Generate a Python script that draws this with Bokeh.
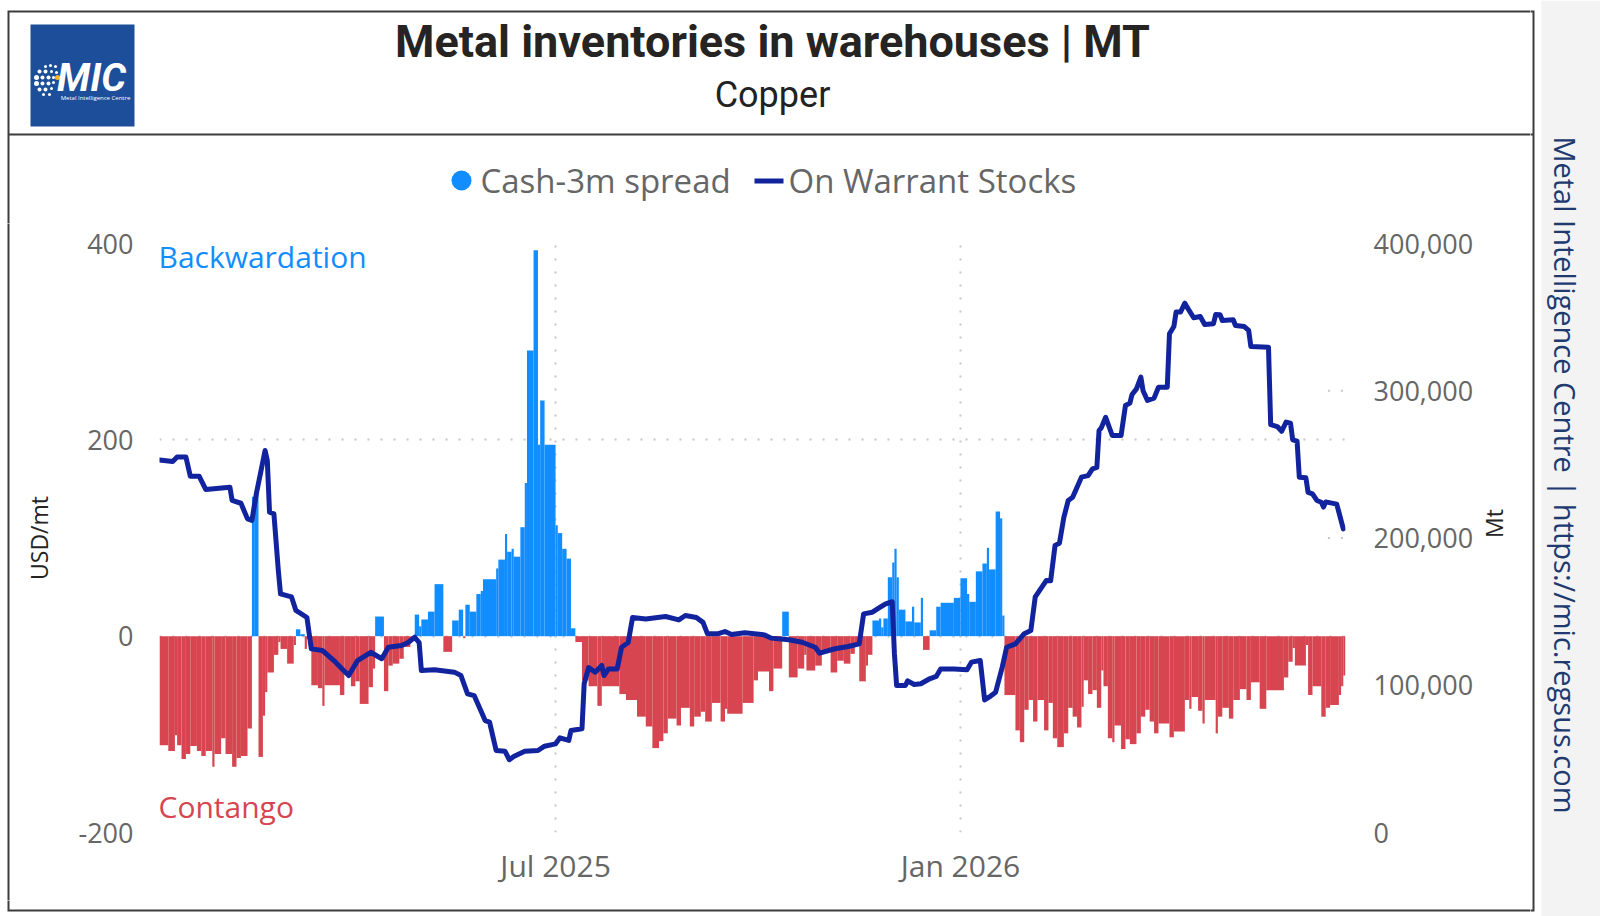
import math
import pandas as pd
from bokeh.embed import file_html
from bokeh.resources import INLINE
from bokeh.layouts import column, row
from bokeh.plotting import figure
from bokeh.models import (ColumnDataSource, Range1d, LinearAxis, FixedTicker,
                          NumeralTickFormatter, DatetimeTickFormatter, Label)

# ---------------------------------------------------------------- data
# LME copper cash-3m spread (USD/mt); each value holds until the next date
spread_dates = [
    "2025-01-02", "2025-01-06", "2025-01-09", "2025-01-10", "2025-01-12", "2025-01-14", "2025-01-16",
    "2025-01-19", "2025-01-21", "2025-01-23", "2025-01-26", "2025-01-27", "2025-01-30",
    "2025-02-01", "2025-02-04", "2025-02-06", "2025-02-08", "2025-02-11", "2025-02-13", "2025-02-14",
    "2025-02-16", "2025-02-18", "2025-02-19", "2025-02-20", "2025-02-23", "2025-02-25", "2025-02-26",
    "2025-03-01", "2025-03-04", "2025-03-05", "2025-03-07", "2025-03-09", "2025-03-10", "2025-03-12",
    "2025-03-15", "2025-03-17", "2025-03-18", "2025-03-25", "2025-03-27", "2025-03-30",
    "2025-04-01", "2025-04-03", "2025-04-07", "2025-04-09", "2025-04-10", "2025-04-14", "2025-04-16",
    "2025-04-18", "2025-04-21", "2025-04-23", "2025-04-26", "2025-04-28", "2025-04-30",
    "2025-05-01", "2025-05-04", "2025-05-07", "2025-05-11", "2025-05-15", "2025-05-18", "2025-05-20",
    "2025-05-21", "2025-05-23", "2025-05-26", "2025-05-28", "2025-05-29",
    "2025-06-04", "2025-06-05", "2025-06-08", "2025-06-09", "2025-06-11", "2025-06-12", "2025-06-15",
    "2025-06-17", "2025-06-18", "2025-06-21", "2025-06-23", "2025-06-24", "2025-06-26",
    "2025-07-01", "2025-07-02", "2025-07-04", "2025-07-06", "2025-07-08", "2025-07-10", "2025-07-13",
    "2025-07-16", "2025-07-20", "2025-07-22", "2025-07-30",
    "2025-08-02", "2025-08-07", "2025-08-11", "2025-08-14", "2025-08-17", "2025-08-19", "2025-08-21",
    "2025-08-25", "2025-08-27", "2025-08-31",
    "2025-09-02", "2025-09-05", "2025-09-07", "2025-09-10", "2025-09-14", "2025-09-16", "2025-09-17",
    "2025-09-24", "2025-09-29",
    "2025-10-01", "2025-10-06", "2025-10-08", "2025-10-12", "2025-10-15", "2025-10-19", "2025-10-22",
    "2025-10-23", "2025-10-27", "2025-10-30",
    "2025-11-03", "2025-11-06", "2025-11-09", "2025-11-12", "2025-11-14", "2025-11-16", "2025-11-19",
    "2025-11-20", "2025-11-22", "2025-11-25", "2025-11-26", "2025-11-27", "2025-11-29",
    "2025-12-01", "2025-12-02", "2025-12-03", "2025-12-04", "2025-12-07", "2025-12-10", "2025-12-11",
    "2025-12-14", "2025-12-15", "2025-12-18", "2025-12-21", "2025-12-23", "2025-12-29",
    "2026-01-01", "2026-01-04", "2026-01-05", "2026-01-08", "2026-01-11", "2026-01-13", "2026-01-14",
    "2026-01-17", "2026-01-19", "2026-01-20", "2026-01-21", "2026-01-26", "2026-01-28", "2026-01-30",
    "2026-02-01", "2026-02-03", "2026-02-05", "2026-02-08", "2026-02-10", "2026-02-12", "2026-02-14",
    "2026-02-17", "2026-02-19", "2026-02-21", "2026-02-23", "2026-02-25", "2026-02-26", "2026-02-28",
    "2026-03-02", "2026-03-04", "2026-03-06", "2026-03-07", "2026-03-09", "2026-03-11", "2026-03-12",
    "2026-03-15", "2026-03-17", "2026-03-19", "2026-03-22", "2026-03-24", "2026-03-26", "2026-03-28",
    "2026-03-30",
    "2026-04-01", "2026-04-06", "2026-04-08", "2026-04-13", "2026-04-15", "2026-04-16", "2026-04-19",
    "2026-04-21", "2026-04-22", "2026-04-27", "2026-04-28", "2026-04-30",
    "2026-05-03", "2026-05-05", "2026-05-08", "2026-05-11", "2026-05-13", "2026-05-17", "2026-05-20",
    "2026-05-28", "2026-05-30",
    "2026-06-01", "2026-06-02", "2026-06-07", "2026-06-08", "2026-06-10", "2026-06-14", "2026-06-16",
    "2026-06-18", "2026-06-22", "2026-06-23", "2026-06-24",
]
spread_usd = [
    -111, -117, -101, -111, -125, -120, -112, -117, -122, -117, -133, -120, -104,
    -120, -133, -124, -122, -94, 142, 147, -123, -81, -57, -37, -19, -6, -13,
    -28, -9, 7, 2, -13, -3, -50, -53, -71, -50, -60, -36, -51,
    -46, -69, -52, -33, 20, -56, -30, -28, -23, -11, -2, 22, 10,
    17, 25, 53, -16, 16, 27, -2, 32, 25, 43, 46, 58,
    69, 78, 104, 86, 89, 81, 111, 156, 291, 393, 195, 240, 195,
    113, 105, 89, 79, 8, -6, -45, -51, -71, -51, -59,
    -65, -82, -92, -114, -107, -99, -84, -91, -73, -92,
    -82, -77, -87, -68, -87, -74, -79, -68, -45,
    -36, -56, -33, 25, -42, -33, -19, -35, -30, -14,
    -37, -25, -28, -18, -9, -46, -30, -19, 16, 18, 9, 18, 60,
    75, 89, 60, 27, 15, 30, 14, 39, -14, 6, 30, 34, 39,
    59, 43, 35, 66, 74, 90, 68, 127, 120, 21, -60, -96, -108, -75,
    -65, -87, -65, -96, -68, -104, -113, -99, -73, -82, -93, -72, -45, -59,
    -55, -73, -35, -51, -104, -108, -91, -115, -105, -110, -99, -82, -75, -87, -99,
    -89, -103, -97, -65, -74, -62, -76, -89, -65, -99, -82, -73,
    -84, -65, -54, -65, -47, -74, -55, -42, -26,
    -12, -30, -9, -60, -51, -82, -73, -70, -60, -51, -40,
]
spread_last_day = "2026-06-25"

# LME copper on-warrant stocks (tonnes)
stock_dates = [
    "2025-01-02", "2025-01-08", "2025-01-10", "2025-01-14", "2025-01-16", "2025-01-20", "2025-01-23",
    "2025-02-03", "2025-02-04", "2025-02-08", "2025-02-11", "2025-02-13", "2025-02-15", "2025-02-19",
    "2025-02-20", "2025-02-21", "2025-02-23", "2025-02-25", "2025-02-26",
    "2025-03-03", "2025-03-05", "2025-03-10", "2025-03-12", "2025-03-17", "2025-03-23", "2025-03-26",
    "2025-03-29",
    "2025-04-02", "2025-04-08", "2025-04-13", "2025-04-16", "2025-04-22", "2025-04-25", "2025-04-28",
    "2025-04-30",
    "2025-05-01", "2025-05-07", "2025-05-16", "2025-05-19", "2025-05-22", "2025-05-25", "2025-05-30",
    "2025-06-01", "2025-06-04", "2025-06-08", "2025-06-10", "2025-06-12", "2025-06-17", "2025-06-23",
    "2025-06-26",
    "2025-07-01", "2025-07-03", "2025-07-07", "2025-07-08", "2025-07-13", "2025-07-14", "2025-07-16",
    "2025-07-19", "2025-07-22", "2025-07-23", "2025-07-25", "2025-07-29", "2025-07-31",
    "2025-08-03", "2025-08-05", "2025-08-11", "2025-08-20", "2025-08-26", "2025-08-29",
    "2025-09-03", "2025-09-06", "2025-09-08", "2025-09-13", "2025-09-16", "2025-09-19", "2025-09-25",
    "2025-10-04", "2025-10-07", "2025-10-15", "2025-10-21", "2025-10-27", "2025-10-29",
    "2025-11-05", "2025-11-11", "2025-11-16", "2025-11-18", "2025-11-22", "2025-11-25", "2025-11-28",
    "2025-12-01", "2025-12-02", "2025-12-03", "2025-12-07", "2025-12-08", "2025-12-11", "2025-12-14",
    "2025-12-18", "2025-12-21", "2025-12-23", "2025-12-29",
    "2026-01-04", "2026-01-06", "2026-01-10", "2026-01-12", "2026-01-14", "2026-01-17", "2026-01-20",
    "2026-01-22", "2026-01-26", "2026-01-30",
    "2026-02-02", "2026-02-04", "2026-02-07", "2026-02-09", "2026-02-11", "2026-02-13", "2026-02-15",
    "2026-02-17", "2026-02-19", "2026-02-21", "2026-02-23", "2026-02-25", "2026-02-28",
    "2026-03-02", "2026-03-04", "2026-03-05", "2026-03-06", "2026-03-08", "2026-03-11", "2026-03-15",
    "2026-03-17", "2026-03-19", "2026-03-20", "2026-03-22", "2026-03-24", "2026-03-25", "2026-03-27",
    "2026-03-30",
    "2026-04-01", "2026-04-05", "2026-04-06", "2026-04-08", "2026-04-09", "2026-04-11", "2026-04-13",
    "2026-04-14", "2026-04-17", "2026-04-20", "2026-04-22", "2026-04-26", "2026-04-27", "2026-04-29",
    "2026-04-30",
    "2026-05-05", "2026-05-06", "2026-05-10", "2026-05-12", "2026-05-13", "2026-05-21", "2026-05-22",
    "2026-05-25", "2026-05-27", "2026-05-29", "2026-05-31",
    "2026-06-01", "2026-06-03", "2026-06-04", "2026-06-07", "2026-06-08", "2026-06-10", "2026-06-12",
    "2026-06-14", "2026-06-15", "2026-06-16", "2026-06-21", "2026-06-22", "2026-06-24",
]
stock_mt = [
    253000, 252000, 255000, 255000, 242000, 242000, 233000,
    234500, 225500, 223600, 213000, 212000, 230000, 259400, 252600, 217500, 216400, 178000, 162000,
    160000, 150800, 146000, 124700, 123600, 115700, 111000, 106600,
    116800, 122400, 118000, 125800, 127000, 129000, 132600, 129000,
    110000, 110500, 108900, 106600, 94200, 93000, 76000,
    75000, 55700, 55200, 49400, 51600, 55200, 55700, 58600,
    60200, 64300, 62500, 69300, 70400, 101000, 112000, 108900, 113400, 106600, 111000, 111000, 125800,
    129000, 146000, 145000, 146700, 144400, 147400,
    146000, 142700, 135000, 135000, 136500, 134500, 135600,
    134200, 132000, 130900, 129200, 125800, 121800,
    124800, 126300, 128100, 148500, 149600, 152500, 155300,
    156700, 121300, 99800, 99800, 103000, 100500, 101000, 104400, 106000, 111000, 111000,
    110500, 115700, 116800, 90000, 91900, 95300, 112300, 125800, 128100, 135000,
    137200, 160000, 166600, 171100, 171000, 195000, 196500, 214000, 225500, 227700, 234500, 241300,
    242400,
    247000, 248000, 273000, 274800, 282000, 269600, 269600, 290000, 291600, 297500, 301300, 309200,
    300000, 293400, 295000,
    302400, 302400, 338700, 343600, 353400, 353400, 359500, 356800, 349600, 350400, 345000, 345500,
    351800, 351600, 347700,
    348200, 344300, 343600, 341000, 330000, 329600, 277000, 275700, 272500, 278700, 278000,
    266700, 265800, 241300, 240900, 231000, 230000, 225500, 224300, 221000, 224500, 223000, 217500,
    206200,
]

date_ticks = ["2025-07-01", "2026-01-01"]
usd_ticks = [-200, 0, 200, 400]
mt_ticks = [0, 100000, 200000, 300000, 400000]

assert len(spread_dates) == len(spread_usd)
assert len(stock_dates) == len(stock_mt)

# ---------------------------------------------------------------- styles
BLUE = "#118DFF"
RED = "#D64550"
NAVY = "#12239E"
INK = "#252423"
GREY = "#666666"
GRID = "#C8C6C4"
FRAME = "#3C3C3C"
STRIP = "#F3F3F3"
UI_FONT = "Open Sans"

# page geometry (pixels)
W, H = 1600, 916
TOP_H = 223           # title block + legend row
BOTTOM_Y = 900        # the chart block ends here, a thin footer follows
LEFT_W = 20           # strip carrying the left frame edge
RIGHT_X = 1530        # strip carrying the right frame edge and the credit
FRAME_L, FRAME_R, FRAME_T, FRAME_B = 8, 1533, 11, 910
OVER = 4              # frame edges run a little past each strip so the pieces join


def canvas(x0, x1, y0, y1):
    """A bare figure whose coordinates are page pixels (y grows downwards)."""
    f = figure(width=x1 - x0, height=y1 - y0,
               x_range=Range1d(x0, x1), y_range=Range1d(y1, y0),
               x_axis_location=None, y_axis_location=None,
               min_border=0, output_backend="svg", toolbar_location=None)
    f.grid.visible = False
    f.outline_line_color = None
    f.background_fill_color = "white"
    f.border_fill_color = "white"
    return f


def label(f, x, y, s, size, color, font=UI_FONT, style="normal", align="left", angle=0.0):
    f.add_layout(Label(x=x, y=y, text=s, text_font=font, text_font_size=size,
                       text_font_style=style, text_color=color, text_align=align,
                       text_baseline="middle", angle=angle))


def edge(f, xs, ys):
    f.line(xs, ys, line_color=FRAME, line_width=2, line_join="miter")


# ---------------------------------------------------------------- title block + legend
head = canvas(0, RIGHT_X, 0, TOP_H)
edge(head, [FRAME_L, FRAME_L, RIGHT_X + OVER], [TOP_H + OVER, FRAME_T, FRAME_T])
edge(head, [FRAME_L, RIGHT_X + OVER], [134, 134])
label(head, 772, 41, "Metal inventories in warehouses | MT", "45px", INK,
      font="Roboto", style="bold", align="center")
label(head, 772, 94, "Copper", "36px", "#222222", font="Roboto", align="center")

# logo badge
head.quad(left=30, right=134, top=24, bottom=126, fill_color="#1C4E9A", line_color=None)
head.scatter(x=[45, 50, 55, 39, 45, 51, 56, 36, 42, 48, 53, 36, 42, 48, 53, 39, 45, 51, 43, 49],
             y=[66, 65, 66, 71, 71, 71, 72, 77, 77, 77, 77, 83, 83, 83, 82, 89, 89, 88, 94, 94],
             size=[3, 3, 3, 4, 4, 3, 3, 5, 4, 4, 3, 5, 4, 4, 3, 4, 4, 3, 3, 3],
             marker="circle", fill_color="white", line_color=None)
head.scatter(x=[57], y=[77], size=5, marker="circle", fill_color="#F2B51C", line_color=None)
label(head, 91, 77, "MIC", "39px", "white", font="Roboto", style="bold italic", align="center")
label(head, 95, 97, "Metal Intelligence Centre", "6px", "white", align="center")

# legend
head.scatter(x=[461], y=[180], size=20, marker="circle", fill_color=BLUE, line_color=None)
label(head, 480, 180, "Cash-3m spread", "33px", GREY)
head.quad(left=754, right=783, top=178, bottom=183, fill_color=NAVY, line_color=None)
label(head, 788, 180, "On Warrant Stocks", "33px", GREY)

# ---------------------------------------------------------------- frame strips
left = canvas(0, LEFT_W, TOP_H, BOTTOM_Y)
edge(left, [FRAME_L, FRAME_L], [TOP_H - OVER, BOTTOM_Y + OVER])

foot = canvas(0, RIGHT_X, BOTTOM_Y, H)
edge(foot, [FRAME_L, FRAME_L, RIGHT_X + OVER], [BOTTOM_Y - OVER, FRAME_B, FRAME_B])

right = canvas(RIGHT_X, W, 0, H)
right.quad(left=1541, right=W, top=0, bottom=H, fill_color=STRIP, line_color=None)
edge(right, [RIGHT_X - OVER, FRAME_R, FRAME_R, RIGHT_X - OVER],
     [FRAME_T, FRAME_T, FRAME_B, FRAME_B])
edge(right, [RIGHT_X - OVER, FRAME_R], [134, 134])
label(right, 1565, 482, "Metal Intelligence Centre  |  https://mic.regsus.com", "29px", "#203A70",
      align="center", angle=-math.pi / 2)

# ---------------------------------------------------------------- chart
starts = pd.to_datetime(spread_dates)
ends = pd.DatetimeIndex(list(starts[1:]) + [pd.Timestamp(spread_last_day)])
bars = ColumnDataSource(dict(
    left=starts.to_numpy(),
    right=ends.to_numpy(),
    top=spread_usd,
    color=[BLUE if v >= 0 else RED for v in spread_usd],
))
stocks = ColumnDataSource(dict(
    date=pd.to_datetime(stock_dates).to_numpy(),
    mt=stock_mt,
))

plot_l, plot_r, plot_t, plot_b = 157, 1345, 243, 832     # plotting area on the page

p = figure(
    width=RIGHT_X - LEFT_W, height=BOTTOM_Y - TOP_H,
    x_axis_type="datetime",
    x_range=Range1d(pd.Timestamp("2025-01-02"), pd.Timestamp(spread_last_day)),
    y_range=Range1d(-200, 400),
    output_backend="svg", toolbar_location=None,
    min_border_left=plot_l - LEFT_W,
    min_border_right=RIGHT_X - plot_r,
    min_border_top=plot_t - TOP_H,
    min_border_bottom=BOTTOM_Y - plot_b,
)
p.extra_y_ranges = {"mt": Range1d(0, 400000)}
p.outline_line_color = None
p.background_fill_color = "white"
p.border_fill_color = "white"

# short secondary-axis guides at the right-hand end
guide_from = pd.Timestamp(spread_last_day) - pd.Timedelta(days=8)
p.segment(x0=[guide_from] * 2, x1=[pd.Timestamp(spread_last_day)] * 2,
          y0=[200000, 300000], y1=[200000, 300000], y_range_name="mt",
          line_color=GRID, line_width=2, line_dash="2 11")

# spread bars, then the stocks line on top
p.quad(left="left", right="right", bottom=0, top="top", source=bars,
       fill_color="color", line_color=None)
p.line(x="date", y="mt", source=stocks, y_range_name="mt",
       line_color=NAVY, line_width=5, line_join="round", line_cap="round")

date_ticker = FixedTicker(ticks=[pd.Timestamp(d).value / 1e6 for d in date_ticks])
xaxis = p.xaxis[0]
xaxis.ticker = date_ticker
xaxis.formatter = DatetimeTickFormatter(days="%b %Y", months="%b %Y", years="%b %Y")
xaxis.major_label_standoff = 12

yaxis = p.yaxis[0]
yaxis.ticker = FixedTicker(ticks=usd_ticks)
yaxis.formatter = NumeralTickFormatter(format="0")
yaxis.axis_label = "USD/mt"
yaxis.major_label_standoff = 26
yaxis.axis_label_standoff = 20

raxis = LinearAxis(y_range_name="mt", ticker=FixedTicker(ticks=mt_ticks),
                   formatter=NumeralTickFormatter(format="0,0"), axis_label="Mt")
raxis.major_label_standoff = 28
raxis.axis_label_standoff = 18
raxis.axis_label_orientation = math.pi / 2
p.add_layout(raxis, "right")

for ax in (xaxis, yaxis, raxis):
    ax.axis_line_color = None
    ax.major_tick_line_color = None
    ax.minor_tick_line_color = None
    ax.major_tick_out = 0
    ax.major_tick_in = 0
    ax.major_label_text_font = UI_FONT
    ax.major_label_text_color = GREY
    ax.major_label_text_font_size = "27px"
    ax.axis_label_text_font = UI_FONT
    ax.axis_label_text_font_style = "normal"
    ax.axis_label_text_font_size = "23px"
    ax.axis_label_text_color = INK
xaxis.major_label_text_font_size = "30px"

p.xgrid.ticker = date_ticker
p.ygrid.ticker = FixedTicker(ticks=usd_ticks)
for g in (p.xgrid, p.ygrid):
    g.grid_line_color = GRID
    g.grid_line_width = 2
    g.grid_line_dash = "2 11"

# regime captions inside the plotting area
for y, s, c in [(256, "Backwardation", BLUE), (806, "Contango", RED)]:
    p.add_layout(Label(x=158 - LEFT_W, y=y - TOP_H, x_units="canvas", y_units="canvas",
                       text=s, text_font=UI_FONT, text_font_size="30px", text_color=c,
                       text_baseline="middle"))

# each plot sits in its own column so neighbouring frames are not aligned to each other
body = row(column(left), column(p), spacing=0)
page = row(column(head, body, foot, spacing=0), right, spacing=0)

html = file_html(page, INLINE, title="Metal inventories in warehouses | MT")
with open("out.html", "w") as f:
    f.write(html)
